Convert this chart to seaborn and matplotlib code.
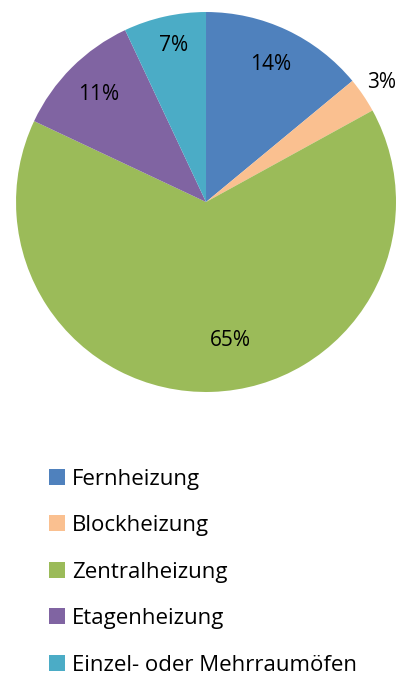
import matplotlib
matplotlib.use('Agg')
import matplotlib.pyplot as plt
import seaborn as sns
from matplotlib.lines import Line2D
import numpy as np

categories = ['Fernheizung', 'Blockheizung', 'Zentralheizung', 'Etagenheizung', 'Einzel- oder Mehrraumöfen']
shares = [14, 3, 65, 11, 7]
colors = ['#4F81BD', '#FAC090', '#9BBB59', '#8064A2', '#4BACC6']

# label placement (radius fraction, angle shift in degrees)
label_dist = [0.80, 1.12, 0.74, 0.80, 0.84]
label_shift = [0, 0, 8, 0, -1]

sns.set_theme(style='white')
plt.rcParams['font.family'] = ['Open Sans', 'DejaVu Sans']

fig = plt.figure(figsize=(4.03, 6.79), dpi=100)
ax = fig.add_axes([0.0397, 0.4227, 0.943, 0.5596])

wedges, _ = ax.pie(shares, colors=colors, startangle=90, counterclock=False,
                   wedgeprops=dict(linewidth=0))
ax.set_aspect('equal')
ax.set_xlim(-1, 1)
ax.set_ylim(-1, 1)

for w, v, d, s in zip(wedges, shares, label_dist, label_shift):
    mid = np.deg2rad((w.theta1 + w.theta2) / 2 + s)
    ax.text(d * np.cos(mid), d * np.sin(mid), f'{v}%', ha='center', va='center',
            fontsize=15, color='black', clip_on=False)

handles = [Line2D([0], [0], marker='s', linestyle='none', markersize=11,
                  markerfacecolor=c, markeredgewidth=0) for c in colors]
leg = fig.legend(handles, categories, loc='upper left', bbox_to_anchor=(0.117, 0.310),
                 frameon=False, fontsize=16, labelspacing=1.15, handletextpad=0.22,
                 handlelength=0.9, borderpad=0, borderaxespad=0)
for t in leg.get_texts():
    t.set_color('black')

plt.savefig('out.png', dpi=100)
